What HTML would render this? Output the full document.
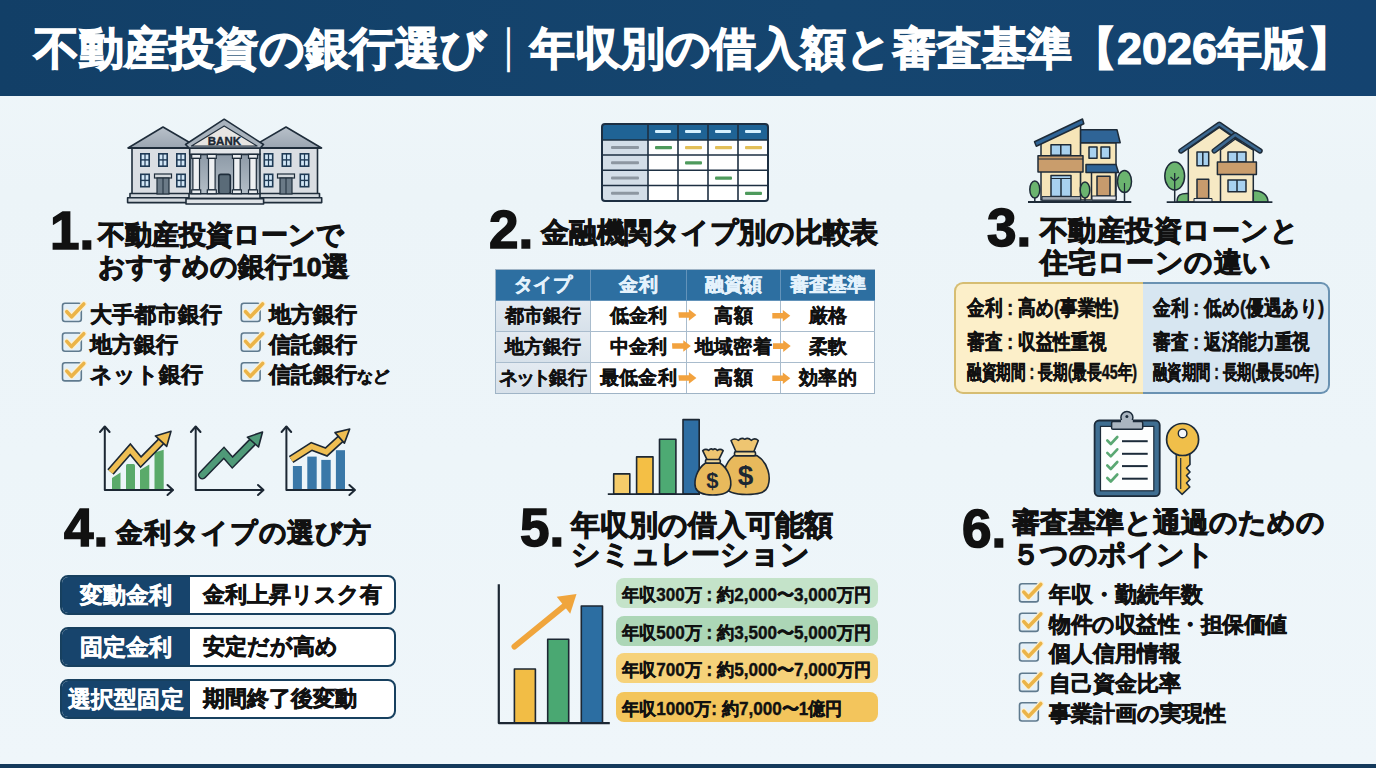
<!DOCTYPE html>
<html lang="ja"><head><meta charset="utf-8">
<style>
*{margin:0;padding:0;box-sizing:border-box;white-space:nowrap}
html,body{width:1376px;height:768px;overflow:hidden}
body{position:relative;font-family:"Liberation Sans",sans-serif;color:#111;font-weight:bold;
background:linear-gradient(180deg,#f0f7fa 0%,#ecf4f8 25%,#edf5f9 60%,#eff6fa 100%)}
.a{position:absolute;white-space:nowrap}
.j{text-align:justify;text-align-last:justify}
span.j{display:inline-block}
#hdr{position:absolute;left:0;top:0;width:1376px;height:96px;background:linear-gradient(90deg,#123f67,#15456f 60%,#144370)}
#ttl{left:34px;top:26px;font-size:45px;line-height:45px;color:#fff;-webkit-text-stroke:1.2px #fff}
#foot{position:absolute;left:0;top:764px;width:1376px;height:4px;background:#143a5c}
.num{font-size:53px;line-height:53px;font-weight:bold;color:#111;-webkit-text-stroke:1.5px #111}
.tt{font-size:28.5px;line-height:32px;-webkit-text-stroke:0.9px #111}
.t22{font-size:22px;line-height:30px;-webkit-text-stroke:0.6px #111}
svg{position:absolute;left:0;top:0}
/* table */
#tbl{position:absolute;left:495px;top:269px;width:380px;height:125px;border:1px solid #9fb4c6;background:#fff}
#tbl div{position:absolute;display:flex;align-items:center;justify-content:center;font-size:19px;-webkit-text-stroke:0.35px #111;border-right:1px solid #a9bccd;border-bottom:1px solid #a9bccd}
#tbl .h{background:#2d6fa1;color:#e4f2fc;-webkit-text-stroke:0.5px #e4f2fc;border-color:#6393ba}
#tbl .c1{background:linear-gradient(180deg,#e3eaf1,#d7e1ea)}
/* comparison box */
.cmp{position:absolute;top:282px;height:112px;}
.cmp div{position:absolute;left:11px;font-size:21px;line-height:21px;transform-origin:0 0;-webkit-text-stroke:0.5px #111}
/* rate rows */
.rr{position:absolute;left:60px;width:336px;height:40px;border:2px solid #17405f;border-radius:8px;background:#fff;overflow:hidden}
.rr .l{position:absolute;left:0;top:0;width:128px;height:100%;background:#17446c;color:#fff;-webkit-text-stroke:0.5px #fff;display:flex;align-items:center;justify-content:center;font-size:22.5px}
.rr .r{position:absolute;left:141px;top:0;height:100%;display:flex;align-items:center;font-size:22px;-webkit-text-stroke:0.6px #111}
/* pills */
.pl{position:absolute;left:616px;width:262px;height:30px;border-radius:8px}
.pl div{position:absolute;left:6px;top:7px;font-size:18px;line-height:20px;transform-origin:0 0;-webkit-text-stroke:0.4px #111}
</style></head><body>
<div id="hdr"></div>
<div id="ttl" class="a j" style="width:1318.13px">不動産投資の銀行選び<span style="font-weight:normal;-webkit-text-stroke:0;position:relative;top:-3px">｜</span>年収別の借入額と審査基準【2026年版】</div>

<!-- Section 1 -->
<div class="a num" style="left:50px;top:204px">1.</div>
<div class="a tt j" style="width:246.02px;left:98px;top:219px;font-size:26.7px">不動産投資ローンで</div>
<div class="a tt j" style="width:250.71px;left:98px;top:251px;font-size:26.7px">おすすめの銀行10選</div>
<div class="a t22 j" style="width:132.02px;left:90px;top:300px">大手都市銀行</div>
<div class="a t22 j" style="width:88.02px;left:90px;top:330px">地方銀行</div>
<div class="a t22 j" style="width:113.02px;left:90px;top:360px">ネット銀行</div>
<div class="a t22 j" style="width:88.02px;left:269px;top:300px">地方銀行</div>
<div class="a t22 j" style="width:88.02px;left:269px;top:330px">信託銀行</div>
<div class="a t22 j" style="width:120.02px;left:269px;top:360px">信託銀行<span style="font-size:16px">など</span></div>

<!-- Section 2 -->
<div class="a num" style="left:489px;top:203px">2.</div>
<div class="a tt j" style="width:337.02px;left:541px;top:217px;font-size:28px;letter-spacing:-0.25px">金融機関タイプ別の比較表</div>
<div id="tbl">
<div class="h" style="left:0;top:0;width:95px;height:31px"><span class="j" style="width:57.02px">タイプ</span></div>
<div class="h" style="left:95px;top:0;width:96px;height:31px"><span class="j" style="width:38.02px">金利</span></div>
<div class="h" style="left:191px;top:0;width:94px;height:31px"><span class="j" style="width:57.02px">融資額</span></div>
<div class="h" style="left:285px;top:0;width:94px;height:31px;border-right:0"><span class="j" style="width:76.02px">審査基準</span></div>
<div class="c1" style="left:0;top:31px;width:95px;height:31px"><span class="j" style="width:76.02px">都市銀行</span></div>
<div style="left:95px;top:31px;width:96px;height:31px"><span class="j" style="width:57.02px">低金利</span></div>
<div style="left:191px;top:31px;width:94px;height:31px"><span class="j" style="width:38.02px">高額</span></div>
<div style="left:285px;top:31px;width:94px;height:31px;border-right:0"><span class="j" style="width:38.02px">厳格</span></div>
<div class="c1" style="left:0;top:62px;width:95px;height:31px"><span class="j" style="width:76.02px">地方銀行</span></div>
<div style="left:95px;top:62px;width:96px;height:31px"><span class="j" style="width:57.02px">中金利</span></div>
<div style="left:191px;top:62px;width:94px;height:31px"><span class="j" style="width:76.02px">地域密着</span></div>
<div style="left:285px;top:62px;width:94px;height:31px;border-right:0"><span class="j" style="width:38.02px">柔軟</span></div>
<div class="c1" style="left:0;top:93px;width:95px;height:30px;border-bottom:0"><span class="j" style="width:87.52px"><span style="letter-spacing:-2.5px">ネット</span>銀行</span></div>
<div style="left:95px;top:93px;width:96px;height:30px;border-bottom:0"><span class="j" style="width:76.02px">最低金利</span></div>
<div style="left:191px;top:93px;width:94px;height:30px;border-bottom:0"><span class="j" style="width:38.02px">高額</span></div>
<div style="left:285px;top:93px;width:94px;height:30px;border:0"><span class="j" style="width:57.02px">効率的</span></div>
</div>

<!-- Section 3 -->
<div class="a num" style="left:987px;top:201px">3.</div>
<div class="a tt j" style="width:259.08px;left:1040px;top:214.5px;font-size:27.9px;line-height:32.5px;letter-spacing:0.45px">不動産投資ローンと</div>
<div class="a tt j" style="width:231.63px;left:1040px;top:247px;font-size:27.9px;line-height:32.5px;letter-spacing:0.45px">住宅ローンの違い</div>
<div class="cmp" style="left:954px;width:189px;background:#fcefc9;border:2px solid #d6bd72;border-right:0;border-radius:9px 0 0 9px">
<div class="j" style="width:180.68px;top:13px;transform:scaleX(0.84)">金利 : 高め(事業性)</div>
<div class="j" style="width:165.69px;top:47px;transform:scaleX(0.84)">審査 : 収益性重視</div>
<div class="j" style="width:232.04px;top:78px;font-size:19.5px;transform:scaleX(0.733)">融資期間 : 長期(最長45年)</div>
</div>
<div class="cmp" style="left:1143px;width:187px;background:#d7e6f1;border:2px solid #6a92b2;border-left:0;border-radius:0 9px 9px 0">
<div class="j" style="width:203.68px;top:13px;left:10px;transform:scaleX(0.84)">金利 : 低め(優遇あり)</div>
<div class="j" style="width:186.69px;top:47px;left:10px;transform:scaleX(0.84)">審査 : 返済能力重視</div>
<div class="j" style="width:232.04px;top:78px;left:10px;font-size:19.5px;transform:scaleX(0.716)">融資期間 : 長期(最長50年)</div>
</div>

<!-- Section 4 -->
<div class="a num" style="left:64px;top:501px">4.</div>
<div class="a tt j" style="width:256.13px;left:116px;top:516.5px;font-size:27.3px;letter-spacing:0.9px">金利タイプの選び方</div>
<div class="rr" style="top:575px"><div class="l"><span class="j" style="width:92.02px">変動金利</span></div><div class="r"><span class="j" style="width:179.02px">金利上昇リスク有</span></div></div>
<div class="rr" style="top:627px"><div class="l"><span class="j" style="width:92.02px">固定金利</span></div><div class="r"><span class="j" style="width:135.02px">安定だが高め</span></div></div>
<div class="rr" style="top:679px"><div class="l"><span class="j" style="width:115.02px">選択型固定</span></div><div class="r"><span class="j" style="width:154.02px">期間終了後変動</span></div></div>

<!-- Section 5 -->
<div class="a num" style="left:520px;top:501px">5.</div>
<div class="a tt j" style="width:262.02px;left:571px;top:511px;font-size:29px;line-height:29px">年収別の借入可能額</div>
<div class="a tt j" style="width:239.02px;left:571px;top:540px;font-size:29px;line-height:29px">シミュレーション</div>
<div class="pl" style="top:578px;background:#c4e3c9"><div class="j" style="width:262.14px;transform:scaleX(0.95)">年収300万 : 約2,000〜3,000万円</div></div>
<div class="pl" style="top:616px;background:#acd6b6"><div class="j" style="width:262.14px;transform:scaleX(0.95)">年収500万 : 約3,500〜5,000万円</div></div>
<div class="pl" style="top:653px;background:#f6d27a"><div class="j" style="width:262.14px;transform:scaleX(0.95)">年収700万 : 約5,000〜7,000万円</div></div>
<div class="pl" style="top:692px;background:#f3c55c"><div class="j" style="width:232.11px;transform:scaleX(0.95)">年収1000万: 約7,000〜1億円</div></div>

<!-- Section 6 -->
<div class="a num" style="left:962px;top:502px">6.</div>
<div class="a tt j" style="width:313.02px;left:1012px;top:507px;font-size:27.7px;line-height:32px">審査基準と通過のための</div>
<div class="a tt j" style="width:202.02px;left:1012px;top:539px;font-size:27.7px;line-height:32px">５つのポイント</div>
<div class="a t22 j" style="width:154.02px;left:1049px;top:580px;line-height:29.7px">年収・勤続年数</div>
<div class="a t22 j" style="width:237.52px;left:1049px;top:609.7px;line-height:29.7px;letter-spacing:-0.5px">物件の収益性・担保価値</div>
<div class="a t22 j" style="width:132.02px;left:1049px;top:639.4px;line-height:29.7px">個人信用情報</div>
<div class="a t22 j" style="width:132.02px;left:1049px;top:669.1px;line-height:29.7px">自己資金比率</div>
<div class="a t22 j" style="width:177.02px;left:1049px;top:698.8px;line-height:29.7px">事業計画の実現性</div>

<svg width="1376" height="768" viewBox="0 0 1376 768">
<defs>
<linearGradient id="gRoof" x1="0" y1="0" x2="0" y2="1"><stop offset="0" stop-color="#b9c1ca"/><stop offset="1" stop-color="#9aa5b1"/></linearGradient>
<linearGradient id="gPort" x1="0" y1="0" x2="0" y2="1"><stop offset="0" stop-color="#8d9aa7"/><stop offset="1" stop-color="#b4bec7"/></linearGradient>
<g id="win"><rect x="0" y="0" width="10" height="14" fill="#1f3a55"/><rect x="1.6" y="1.6" width="2.8" height="4.6" fill="#d2e7f7"/><rect x="5.6" y="1.6" width="2.8" height="4.6" fill="#d2e7f7"/><rect x="1.6" y="7.6" width="2.8" height="4.8" fill="#d2e7f7"/><rect x="5.6" y="7.6" width="2.8" height="4.8" fill="#d2e7f7"/></g>
<g id="wdoor"><rect x="0" y="0" width="17" height="4" fill="#d5dade" stroke="#1f2d3b" stroke-width="1.2"/><rect x="2.5" y="4" width="12" height="16" fill="#6b7a87" stroke="#1f2d3b" stroke-width="1.2"/><line x1="8.5" y1="4" x2="8.5" y2="20" stroke="#1f2d3b" stroke-width="1"/></g>
<g id="col"><rect x="-4.5" y="0" width="9" height="4" fill="#e9ecef" stroke="#1f2d3b" stroke-width="1.2"/><rect x="-3.3" y="4" width="6.6" height="31.5" fill="#eef0f2" stroke="#1f2d3b" stroke-width="1.2"/><rect x="-4.5" y="35.5" width="9" height="3.8" fill="#e9ecef" stroke="#1f2d3b" stroke-width="1.2"/></g>
</defs>
<!-- ===== BANK ===== -->
<g stroke="#1f2d3b" stroke-width="1.6" stroke-linejoin="round">
<polygon points="128,148 163,127 199,148" fill="url(#gRoof)"/>
<rect x="132" y="148" width="58" height="46" fill="#dadee3"/>
<polygon points="250,148 286,127 321.5,148" fill="url(#gRoof)"/>
<rect x="259" y="148" width="58.5" height="46" fill="#dadee3"/>
<line x1="128" y1="148" x2="199" y2="148" stroke-width="2.2"/>
<line x1="250" y1="148" x2="321.5" y2="148" stroke-width="2.2"/>
<rect x="130" y="193.5" width="60" height="4.3" fill="#d3d9de"/>
<rect x="127.6" y="197.8" width="62.4" height="4.8" fill="#d3d9de"/>
<rect x="259" y="193.5" width="60.5" height="4.3" fill="#d3d9de"/>
<rect x="259" y="197.8" width="62.7" height="4.8" fill="#d3d9de"/>
<rect x="190" y="154" width="70" height="40" fill="url(#gPort)"/>
<polygon points="185.5,144.5 224.2,119.2 263.5,144.5 260,148.3 189.5,148.3" fill="#a9b3bd"/>
<polygon points="191.5,146 224.2,126 257,146" fill="#e7e5e2" stroke-width="1.2"/>
<rect x="189.7" y="148.3" width="70.3" height="6.1" fill="#e4e7ea"/>
<rect x="218.8" y="174.4" width="11.5" height="19.3" rx="2" fill="#5a6b78"/>
<rect x="189" y="193.7" width="71" height="4.9" fill="#dfe3e7"/>
<rect x="186" y="198.6" width="77.6" height="5.4" fill="#dfe3e7"/>
</g>
<use href="#col" x="196.2" y="154.4"/><use href="#col" x="211.8" y="154.4"/><use href="#col" x="236.9" y="154.4"/><use href="#col" x="253" y="154.4"/>
<use href="#win" x="140" y="153"/><use href="#win" x="158" y="153"/><use href="#win" x="176" y="153"/>
<use href="#win" x="140" y="173.5"/><use href="#win" x="176" y="173.5"/>
<use href="#wdoor" x="154.5" y="174"/>
<use href="#win" x="263.5" y="153"/><use href="#win" x="281.5" y="153"/><use href="#win" x="299.5" y="153"/>
<use href="#win" x="263.5" y="173.5"/><use href="#win" x="299.5" y="173.5"/>
<use href="#wdoor" x="277.5" y="174"/>
<text x="224.4" y="145.4" font-family="Liberation Sans" font-weight="bold" font-size="11.5" text-anchor="middle" fill="#1c2733" stroke="#1c2733" stroke-width="0.4">BANK</text>
<!-- ===== TABLE ICON ===== -->
<rect x="602" y="124" width="166" height="77" rx="3" fill="#fff"/>
<rect x="602" y="124" width="166" height="16" rx="3" fill="#1f6395"/>
<rect x="602" y="135" width="166" height="5" fill="#1f6395"/>
<rect x="603" y="140" width="45" height="60" fill="#d3dee8"/>
<g stroke="#1d2f42" stroke-width="1.6">
<line x1="602" y1="140" x2="768" y2="140"/><line x1="602" y1="155" x2="768" y2="155"/><line x1="602" y1="170.2" x2="768" y2="170.2"/><line x1="602" y1="185.5" x2="768" y2="185.5"/>
<line x1="648" y1="124" x2="648" y2="201"/><line x1="678" y1="124" x2="678" y2="201"/><line x1="708" y1="124" x2="708" y2="201"/><line x1="738" y1="124" x2="738" y2="201"/>
</g>
<rect x="602" y="124" width="166" height="77" rx="3" fill="none" stroke="#1d2f42" stroke-width="2"/>
<g fill="#d6f1ff"><rect x="655" y="130" width="16" height="3" rx="1"/><rect x="685" y="130" width="16" height="3" rx="1"/><rect x="715" y="130" width="16" height="3" rx="1"/><rect x="745" y="130" width="16" height="3" rx="1"/></g>
<g fill="#8d97a1"><rect x="611" y="146" width="28" height="3" rx="1"/><rect x="611" y="161.3" width="28" height="3" rx="1"/><rect x="611" y="176.5" width="28" height="3" rx="1"/><rect x="611" y="191.7" width="28" height="3" rx="1"/></g>
<g fill="#4e9a5c"><rect x="655" y="146" width="17" height="3.2" rx="1"/><rect x="685" y="161.3" width="17" height="3.2" rx="1"/><rect x="715" y="176.5" width="17" height="3.2" rx="1"/><rect x="745" y="191.7" width="17" height="3.2" rx="1"/></g>
<g fill="#e2bf58"><rect x="685" y="146" width="17" height="3.2" rx="1"/><rect x="715" y="146" width="17" height="3.2" rx="1"/><rect x="745" y="146" width="17" height="3.2" rx="1"/></g>
<!-- table arrows -->
<g fill="#f2a23e">
<path d="M678.4,312.2 h10.5 v-3 l7.5,5.8 l-7.5,5.8 v-3 h-10z"/>
<path d="M672,343.2 h11.3 v-3 l7.5,5.8 l-7.5,5.8 v-3 h-11z"/>
<path d="M678.4,375.2 h10.5 v-3 l7.5,5.8 l-7.5,5.8 v-3 h-10z"/>
<path d="M772.3,313 h10.5 v-3 l7.5,5.8 l-7.5,5.8 v-3 h-10.5z"/>
<path d="M773,343.3 h10.2 v-3 l7.5,5.8 l-7.5,5.8 v-3 h-10.2z"/>
<path d="M772.3,375.5 h10.5 v-3 l7.5,5.8 l-7.5,5.8 v-3 h-10.5z"/>
</g>
<!-- ===== HOUSES ===== -->
<g stroke="#1e2b38" stroke-width="1.5" stroke-linejoin="round">
<!-- house 1 -->
<polygon points="1041,141.5 1080.6,123 1080.6,200 1041,200" fill="#f6e5b8"/>
<rect x="1080.6" y="142.8" width="35.4" height="57.2" fill="#f6e5b8"/>
<polygon points="1080.6,129.8 1117,129.8 1120.2,142.8 1080.6,142.8" fill="#2f6496"/>
<polygon points="1034.5,141.8 1082.5,119 1083.8,123.8 1036.3,146.3" fill="#2f6496"/>
<rect x="1051" y="144.7" width="19.7" height="10.5" fill="#a8d1ef"/><line x1="1060.8" y1="144.7" x2="1060.8" y2="155.2"/>
<rect x="1038" y="155.8" width="45" height="16.2" fill="#c99d6c"/><line x1="1038" y1="159" x2="1083" y2="159" stroke-width="1"/>
<rect x="1051" y="175.6" width="20" height="21" fill="#a8d1ef"/><line x1="1061" y1="178.5" x2="1061" y2="196.6"/><line x1="1051" y1="178.5" x2="1071" y2="178.5" stroke-width="1"/>
<rect x="1042" y="196.6" width="38.6" height="3.6" fill="#a3abb3" stroke-width="1"/>
<rect x="1089" y="147" width="8" height="11.3" fill="#a8d1ef"/><rect x="1101" y="147" width="8.7" height="11.3" fill="#a8d1ef"/>
<line x1="1091.5" y1="172.5" x2="1091.5" y2="199"/><line x1="1115.5" y1="172.5" x2="1115.5" y2="199"/>
<polygon points="1086,164.5 1116,164.5 1118.5,172.5 1086,172.5" fill="#2f6496"/>
<rect x="1097" y="176.2" width="13" height="19.8" fill="#c79b6d"/>
<rect x="1092" y="196" width="24" height="4" fill="#e4e7ea" stroke-width="1"/>
<line x1="1034.8" y1="192" x2="1034.8" y2="202"/><ellipse cx="1034.8" cy="189.5" rx="5" ry="8.5" fill="#6bb46f"/>
<line x1="1085" y1="192" x2="1085" y2="202"/><ellipse cx="1085" cy="190" rx="4.8" ry="8" fill="#6bb46f"/>
<line x1="1124.5" y1="186" x2="1124.5" y2="202"/><ellipse cx="1124.5" cy="181.5" rx="7" ry="11" fill="#6bb46f"/>
<line x1="1124.5" y1="183" x2="1124.5" y2="192" stroke-width="1.2"/>
<line x1="1028" y1="202" x2="1131.3" y2="202" stroke-width="1.8"/>
<!-- house 2 -->
<polygon points="1188.3,149 1219.3,127.5 1238,140.5 1238,202 1188.3,202" fill="#f6e9c4"/>
<polygon points="1220.5,150 1235.3,139 1253.3,150 1253.3,202 1220.5,202" fill="#f6e9c4"/>
<polyline points="1181,150.9 1219.3,124.3 1240.5,139" fill="none" stroke="#1e2b38" stroke-width="5.5" stroke-linecap="round"/>
<polyline points="1181,150.9 1219.3,124.3 1240.5,139" fill="none" stroke="#3c6890" stroke-width="2.6" stroke-linecap="round"/>
<polyline points="1214.3,150.9 1235.3,134.8 1260,150.9" fill="none" stroke="#1e2b38" stroke-width="5.5" stroke-linecap="round"/>
<polyline points="1214.3,150.9 1235.3,134.8 1260,150.9" fill="none" stroke="#3c6890" stroke-width="2.6" stroke-linecap="round"/>
<rect x="1197" y="152.1" width="11.7" height="13.6" fill="#a8d1ef"/><line x1="1202.8" y1="152.1" x2="1202.8" y2="165.7"/>
<rect x="1228" y="152" width="18" height="10" fill="#a8d1ef"/><line x1="1237" y1="152" x2="1237" y2="162"/>
<rect x="1217.4" y="162" width="39" height="12.4" fill="#c99d6c"/>
<rect x="1228" y="180" width="18" height="11.7" fill="#a8d1ef"/><line x1="1237" y1="180" x2="1237" y2="191.7"/>
<rect x="1197" y="179.3" width="11.7" height="19.2" fill="#c79b6d"/>
<rect x="1194" y="198.5" width="18" height="3.7" fill="#e4e7ea" stroke-width="1"/>
<path d="M1177,202 C1177,195 1181,193 1188.3,193.5 L1188.3,202Z" fill="#6bb46f"/>
<path d="M1253.3,190.5 C1262,190.5 1268,195 1268,202 L1253.3,202Z" fill="#6bb46f"/>
<line x1="1174.7" y1="180" x2="1174.7" y2="202"/>
<ellipse cx="1174.7" cy="176" rx="9.9" ry="14" fill="#6bb46f"/>
<path d="M1174.7,173 V190 M1174.7,181 L1170.5,177 M1174.7,181 L1179,177" fill="none" stroke-width="1.3"/>
<line x1="1166.7" y1="202.2" x2="1272.4" y2="202.2" stroke-width="1.8"/>
</g>
<!-- ===== S4 CHARTS ===== -->
<g fill="#5aaa6a"><polygon points="112,478 120.5,472.5 120.5,490 112,490"/><rect x="126" y="464" width="9" height="26" rx="1.5"/><polygon points="140,470 149.3,464.5 149.3,490 140,490"/><polygon points="154.5,452.5 163.7,449.7 163.7,490 154.5,490"/></g>
<g fill="#3a78a8"><rect x="292.9" y="466" width="9" height="24"/><rect x="307.3" y="456.6" width="9.4" height="33.4"/><rect x="321.3" y="459.9" width="9.4" height="30.1"/><rect x="335.9" y="450.2" width="9.1" height="39.8"/></g>
<g fill="none" stroke="#1c2733" stroke-width="2" stroke-linecap="round" stroke-linejoin="round">
<polyline points="104.8,427 104.8,490 172.5,490"/><polyline points="100,432 104.8,426.5 109.6,432"/><polyline points="167.5,485 173,490 167.5,495"/>
<polyline points="195.7,427 195.7,490 263,490"/><polyline points="190.9,432 195.7,426.5 200.5,432"/><polyline points="258,485 263.5,490 258,495"/>
<polyline points="286.4,427 286.4,490 354.4,490"/><polyline points="281.6,432 286.4,426.5 291.2,432"/><polyline points="349.4,485 354.9,490 349.4,495"/>
</g>
<!-- yellow arrow chart1 -->
<polyline points="110.5,472 130.3,449.3 140.8,462 161,441.5" fill="none" stroke="#1c2733" stroke-width="8.5" stroke-linejoin="miter"/>
<polyline points="110.5,472 130.3,449.3 140.8,462 161,441.5" fill="none" stroke="#efbe52" stroke-width="5.3" stroke-linejoin="miter"/>
<polygon points="171,431.3 155.4,435.9 166.7,446.4" fill="#efbe52" stroke="#1c2733" stroke-width="1.6" stroke-linejoin="round"/>
<!-- green arrow chart2 -->
<polyline points="202.5,475 223.9,452.8 232.4,462.5 252,442.5" fill="none" stroke="#1c2733" stroke-width="9" stroke-linecap="round" stroke-linejoin="miter"/>
<polyline points="202.5,475 223.9,452.8 232.4,462.5 252,442.5" fill="none" stroke="#4f9a78" stroke-width="6" stroke-linecap="round" stroke-linejoin="miter"/>
<polygon points="262.5,432 247.4,437.2 258.5,447" fill="#4f9a78" stroke="#1c2733" stroke-width="1.6" stroke-linejoin="round"/>
<!-- yellow arrow chart3 -->
<polyline points="291.1,459.5 311.6,446.5 326.3,452 341,438.5" fill="none" stroke="#1c2733" stroke-width="8.5" stroke-linejoin="miter"/>
<polyline points="291.1,459.5 311.6,446.5 326.3,452 341,438.5" fill="none" stroke="#efbe52" stroke-width="5.3" stroke-linejoin="miter"/>
<polygon points="349.7,429 335,432.6 344.4,443.1" fill="#efbe52" stroke="#1c2733" stroke-width="1.6" stroke-linejoin="round"/>
<!-- ===== S5 TOP ICON ===== -->
<g stroke="#1c2733" stroke-width="1.6" stroke-linejoin="round">
<rect x="613.7" y="473.9" width="16.1" height="20.2" fill="#f5cc6a"/>
<rect x="636.6" y="456.9" width="16.4" height="37.2" fill="#f4bf45"/>
<rect x="659.5" y="439.2" width="16.4" height="54.9" fill="#4daa73"/>
<rect x="683" y="419.6" width="16.2" height="74.5" fill="#2e6ea3"/>
<line x1="607.8" y1="494.1" x2="700" y2="494.1" stroke-width="1.8"/>
<!-- big bag -->
<path d="M734,455.6 C724,463 721.5,477 724.5,486 C727,493.5 737,494.5 746.8,494.5 C756.5,494.5 765.5,493.5 768,486 C771,477 768.5,463 757,455.6 Z" fill="#e8b95c"/>
<path d="M736,451.8 L731,440.5 Q734.5,437.5 738.5,440.3 Q741.5,437 744.8,439.3 Q748,437 751.2,440.3 Q755,437.5 758.3,440.5 L753.8,451.8 Z" fill="#eec571"/>
<rect x="734.5" y="451.6" width="21" height="4.2" rx="1.5" fill="#f2d898"/>
<!-- small bag -->
<path d="M705.5,463 C697,469 693.5,480 695.5,487.5 C697.5,494 706,495 712.8,495 C719.6,495 728.5,494 730.3,487.5 C732.3,480 728.5,469 720,463 Z" fill="#e8b95c"/>
<path d="M707,459.7 L702.7,450.7 Q705.8,448.3 708.6,450.4 Q710.8,447.8 713,449.6 Q715.2,447.8 717.4,450.4 Q720.2,448.3 723.2,450.7 L718.8,459.7 Z" fill="#eec571"/>
<rect x="705.5" y="459.5" width="14.8" height="3.6" rx="1.3" fill="#f2d898"/>
</g>
<text x="712.3" y="488" font-family="Liberation Sans" font-weight="bold" font-size="22" text-anchor="middle" fill="#1c2733">$</text>
<text x="745.5" y="484.5" font-family="Liberation Sans" font-weight="bold" font-size="28" text-anchor="middle" fill="#1c2733">$</text>
<!-- ===== S5 LOWER CHART ===== -->
<g stroke="#1c2733" stroke-width="1.6" stroke-linejoin="round">
<rect x="514.4" y="669" width="21" height="54" fill="#f2bd45"/>
<rect x="547.7" y="639.2" width="21" height="83.8" fill="#4aa872"/>
<rect x="581.3" y="606" width="21.2" height="117" fill="#2c6ea2"/>
<polyline points="498.8,584.2 498.8,723.1 609.8,723.1" fill="none" stroke-width="2.2"/>
</g>
<line x1="514.5" y1="646.5" x2="566" y2="604.5" stroke="#f0a53c" stroke-width="6" stroke-linecap="round"/>
<polygon points="576.5,594 556.7,596.7 570.2,613.7" fill="#f0a53c"/>
<!-- ===== S6 CLIPBOARD + KEY ===== -->
<rect x="1094.6" y="420.5" width="65.1" height="75.6" rx="4.5" fill="#3f6e91" stroke="#1c2b3a" stroke-width="1.8"/>
<rect x="1100.5" y="426.4" width="53.3" height="64.4" fill="#fdfefe" stroke="#1c2b3a" stroke-width="1.2"/>
<circle cx="1126.9" cy="417.5" r="6" fill="#aab5c0" stroke="#1c2b3a" stroke-width="1.5"/>
<path d="M1113,421.5 H1141.3 Q1142.7,421.5 1142.7,423 V428 Q1142.7,429.3 1141.3,429.3 H1113 Q1111.6,429.3 1111.6,428 V423 Q1111.6,421.5 1113,421.5Z" fill="#aab5c0" stroke="#1c2b3a" stroke-width="1.5"/>
<rect x="1121" y="420" width="11.8" height="3" fill="#aab5c0"/>
<circle cx="1126.9" cy="416.6" r="1.5" fill="#1c2b3a"/>
<g fill="none" stroke="#5aa873" stroke-width="2.6" stroke-linecap="round" stroke-linejoin="round">
<polyline points="1107.3,440.5 1110.8,444 1117.3,437"/><polyline points="1107.3,452.8 1110.8,456.3 1117.3,449.3"/><polyline points="1107.3,465.5 1110.8,469 1117.3,462"/><polyline points="1107.3,478 1110.8,481.5 1117.3,474.5"/>
</g>
<g stroke="#1c2b3a" stroke-width="2"><line x1="1122" y1="441.2" x2="1147.7" y2="441.2"/><line x1="1122" y1="453.8" x2="1147.7" y2="453.8"/><line x1="1122" y1="466.1" x2="1147.7" y2="466.1"/><line x1="1122" y1="478.7" x2="1147.7" y2="478.7"/></g>
<path d="M1176.3,451 V488.5 L1182,494.3 L1189.8,487 L1186.5,483 L1190,479.5 L1186.5,475.5 L1190,472 L1186.5,468 L1190,464.5 L1189.8,451 Z" fill="#f0bf4a" stroke="#1c2b3a" stroke-width="1.6" stroke-linejoin="round"/>
<circle cx="1182.6" cy="439.5" r="16" fill="#f0bf4a" stroke="#1c2b3a" stroke-width="1.7"/>
<circle cx="1182.6" cy="433.4" r="4.3" fill="#f5f8fb" stroke="#1c2b3a" stroke-width="1.4"/>
<line x1="1180.7" y1="458" x2="1180.7" y2="489" stroke="#1c2b3a" stroke-width="1.2"/>
<!-- ===== CHECKBOXES ===== -->
<defs><g id="cb"><rect x="0" y="0" width="18.8" height="18.2" rx="2.5" fill="#e4f0f8" stroke="#5f7a8e" stroke-width="1.6"/><polyline points="4.3,8.4 9,13.6 21.3,0.7" fill="none" stroke="#fbf1d6" stroke-width="6" stroke-linecap="round" stroke-linejoin="round"/><polyline points="4.3,8.4 9,13.6 21.3,0.7" fill="none" stroke="#ebb448" stroke-width="3.6" stroke-linecap="round" stroke-linejoin="round"/></g></defs>
<use href="#cb" x="62.5" y="303.3"/><use href="#cb" x="62.5" y="333"/><use href="#cb" x="62.5" y="362.7"/>
<use href="#cb" x="241.3" y="303.3"/><use href="#cb" x="241.3" y="333"/><use href="#cb" x="241.3" y="362.7"/>
<use href="#cb" x="1019.5" y="583.7"/><use href="#cb" x="1019.5" y="613.2"/><use href="#cb" x="1019.5" y="642.8"/><use href="#cb" x="1019.5" y="673.2"/><use href="#cb" x="1019.5" y="702.8"/>
</svg>

<div id="foot"></div>
</body></html>
